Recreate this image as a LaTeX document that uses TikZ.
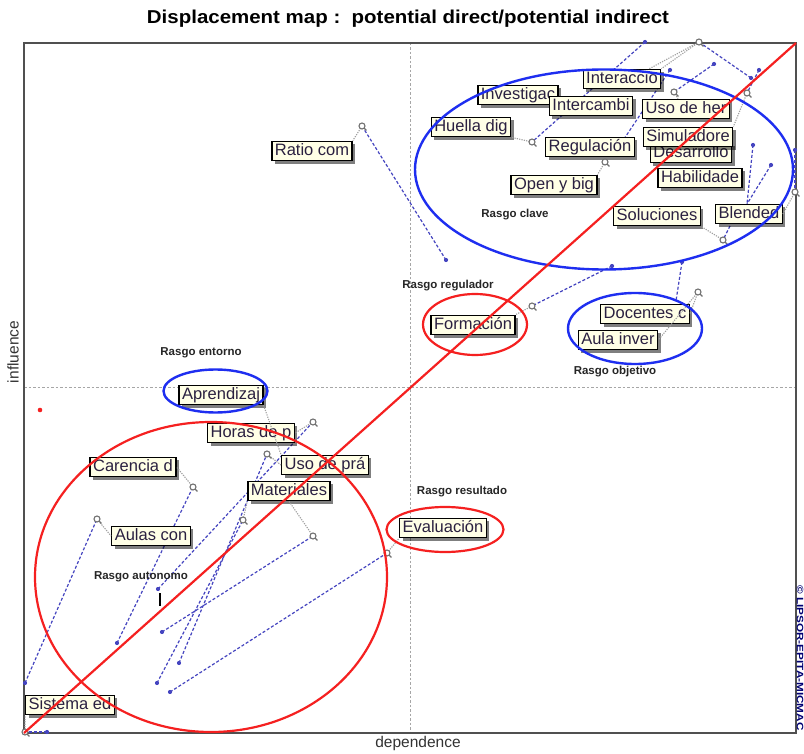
\documentclass[tikz,border=0pt]{standalone}
\usepackage{fontspec}
\setmainfont{Liberation Sans}
\usetikzlibrary{shadows}
\definecolor{labelfill}{HTML}{FFFFE6}
\definecolor{labeltext}{HTML}{2A2040}
\definecolor{moveblue}{HTML}{4545C0}
\definecolor{ringblue}{HTML}{1E2EF0}
\definecolor{ringred}{HTML}{F52020}
\definecolor{framegrey}{HTML}{505050}
\definecolor{markgrey}{HTML}{707070}
\tikzset{
  varlabel/.style={draw=black, line width=1.3pt, fill=labelfill, text=labeltext,
    font=\fontsize{16.5}{17}\selectfont, inner xsep=3pt, inner ysep=2.3pt,
    text height=11.8pt, text depth=3pt,
    drop shadow={shadow xshift=3pt, shadow yshift=-3pt, fill=black, opacity=0.5}},
  movepath/.style={moveblue, dash pattern=on 3pt off 2pt, line width=1.2pt},
  tiepath/.style={gray!75, dash pattern=on 1.2pt off 1.2pt, line width=1.1pt},
  ring/.style={line width=2.4pt},
  traitlabel/.style={font=\bfseries\fontsize{11.5}{13}\selectfont, text=black!85},
  axislabel/.style={font=\fontsize{15.5}{16}\selectfont, text=black!80},
}
\begin{document}
\begin{tikzpicture}[x=1pt,y=-1pt]
\useasboundingbox (0,0) rectangle (804,754);
\fill[white] (0,0) rectangle (804,754);

% title
\node (title) at (408,19) {\resizebox{522pt}{13.5pt}{\bfseries Displacement map :\ \ potential direct/potential indirect}};

% plot frame and quadrant axes
\coordinate (ll) at (24,733);
\coordinate (ur) at (796,43);
\coordinate (axtop) at (410,43);
\coordinate (axbot) at (410,733);
\coordinate (axleft) at (24,387);
\coordinate (axright) at (796,387);
\draw[gray!70, dash pattern=on 2.5pt off 2pt, line width=0.9pt] (axtop) -- (axbot);
\draw[gray!70, dash pattern=on 2.5pt off 2pt, line width=0.9pt] (axleft) -- (axright);
\draw[framegrey, line width=1.8pt] (ll) rectangle (ur);

% axis titles
\node[axislabel] (dep) at (418,743) {dependence};
\node[axislabel, rotate=90] (inf) at (13,352) {influence};
\node[font=\bfseries\fontsize{8}{9}\selectfont, text=black!55!blue, rotate=-90] (copy) at (800,658)
  {\resizebox{145pt}{6.5pt}{\textcopyright{} LIPSOR-EPITA-MICMAC}};

% displacement end points: filled dot = start, ring = end
\coordinate (h1) at (645,42);   \coordinate (h2) at (532,142);
\coordinate (i1) at (751,78);   \coordinate (i2) at (699,42);
\coordinate (u1) at (714,64);   \coordinate (u2) at (674,92);
\coordinate (s1) at (759,70);   \coordinate (s2) at (747,93);
\coordinate (r1) at (670,70);   \coordinate (r2) at (622,142);
\coordinate (o2) at (605,162);
\coordinate (b1) at (753,145);  \coordinate (b2) at (771,165);  \coordinate (bb) at (747,204);
\coordinate (e1) at (795,150);  \coordinate (e2) at (795,192);
\coordinate (so1) at (730,226); \coordinate (so2) at (723,240);
\coordinate (f1) at (612,266);  \coordinate (f2) at (532,306);
\coordinate (d1) at (682,262);  \coordinate (d2) at (676,301);
\coordinate (a2) at (698,292);
\coordinate (rc1) at (446,260); \coordinate (rc2) at (362,126);
\coordinate (ev1) at (170,692); \coordinate (ev2) at (387,553);
\coordinate (ca1) at (117,643); \coordinate (ca2) at (193,487);
\coordinate (au1) at (25,683);  \coordinate (au2) at (97,519);
\coordinate (ho1) at (158,589); \coordinate (ho2) at (313,422);
\coordinate (up1) at (179,663); \coordinate (up2) at (267,454);
\coordinate (ma1) at (157,683); \coordinate (ma2) at (243,520);
\coordinate (mb1) at (162,632); \coordinate (mb2) at (313,536);
\coordinate (si1) at (47,732);  \coordinate (si2) at (25,732);

% displacement paths
\foreach \a/\b in {h1/h2, i1/i2, u1/u2, s1/s2, r1/r2, b1/bb, b2/bb, e1/e2, so1/so2,
                   f1/f2, d1/d2, rc1/rc2, ev1/ev2, ca1/ca2, au1/au2, ho1/ho2, up1/up2,
                   ma1/ma2, mb1/mb2, si1/si2}
  \draw[movepath] (\a) -- (\b);

% labels
\node[varlabel] (interaccio) at (622,79) {Interaccio};
\node[varlabel] (investigac) at (518,95) {Investigac};
\node[varlabel] (intercambi) at (591,106) {Intercambi};
\node[varlabel] (usoher) at (686,109) {Uso de her};
\node[varlabel] (huella) at (471,127) {Huella dig};
\node[varlabel] (regulacion) at (590,147) {Regulación};
\node[varlabel] (desarrollo) at (691,153) {Desarrollo};
\node[varlabel] (simuladore) at (688,137) {Simuladore};
\node[varlabel] (habilidade) at (700,178) {Habilidade};
\node[varlabel] (openbig) at (554,185) {Open y big};
\node[varlabel] (soluciones) at (657,216) {Soluciones};
\node[varlabel] (blended) at (749,214) {Blended};
\node[varlabel] (ratio) at (312,151) {Ratio com};
\node[varlabel] (formacion) at (473,325) {Formación};
\node[varlabel] (docentes) at (645,314) {Docentes c};
\node[varlabel] (aulainver) at (618,340) {Aula inver};
\node[varlabel] (evaluacion) at (443,528) {Evaluación};
\node[varlabel] (aprendizaj) at (221,395) {Aprendizaj};
\node[varlabel] (horas) at (251,433) {Horas de p};
\node[varlabel] (carencia) at (133,467) {Carencia d};
\node[varlabel] (usopra) at (325,465) {Uso de prá};
\node[varlabel] (materiales) at (289,491) {Materiales};
\node[varlabel] (aulascon) at (151,536) {Aulas con};
\node[varlabel] (sistema) at (70,705) {Sistema ed};

% ties from each end ring to its label
\draw[tiepath] (h2) -- (huella.south east);
\draw[tiepath] (i2) -- (interaccio.north east);
\draw[tiepath] (i2) -- ([xshift=-12pt]interaccio.north east);
\draw[tiepath] (u2) -- ([xshift=-8pt]usoher.north);
\draw[tiepath] (s2) -- (simuladore.north east);
\draw[tiepath] (o2) -- (openbig.north east);
\draw[tiepath] (e2) -- (blended.east);
\draw[tiepath] (so2) -- (soluciones.south east);
\draw[tiepath] (f2) -- (formacion.north east);
\draw[tiepath] (a2) -- (aulainver.east);
\draw[tiepath] (a2) -- (docentes.east);
\draw[tiepath] (rc2) -- (ratio.north east);
\draw[tiepath] (ev2) -- (evaluacion.south west);
\draw[tiepath] (ca2) -- (carencia.east);
\draw[tiepath] (au2) -- (aulascon.west);
\draw[tiepath] (ho2) -- (horas.east);
\draw[tiepath] (up2) -- (usopra.west);
\draw[tiepath] (aprendizaj.south east) -- (usopra.north west);
\draw[tiepath] (ma2) -- (materiales.south west);
\draw[tiepath] (mb2) -- (materiales.south);
\draw[tiepath] (si2) -- (sistema.south west);

% end rings and start dots
\foreach \c in {h2,i2,u2,s2,o2,e2,so2,f2,a2,rc2,ev2,ca2,au2,ho2,up2,ma2,mb2,si2} {
  \draw[markgrey, line width=1.1pt, fill=white] (\c) circle (3pt);
  \draw[markgrey, line width=1.4pt] (\c) ++(2.2,2.2) -- ++(2.2,2.2);
}
\foreach \c in {h1,i1,u1,s1,r1,b1,b2,e1,f1,d1,rc1,ev1,ca1,au1,ho1,up1,ma1,mb1,si1}
  \fill[moveblue] (\c) circle (2.1pt);

% stray marks
\coordinate (reddot) at (40,410);
\fill[ringred] (reddot) circle (2.3pt);
\coordinate (ibeamtop) at (160,593);
\coordinate (ibeambot) at (160,606);
\draw[black, line width=1.2pt] (ibeamtop) -- (ibeambot);

% trait groupings
\draw[ringblue, ring] (604,169.5) ellipse [x radius=189pt, y radius=100pt];
\draw[ringblue, ring] (635,328.5) ellipse [x radius=67pt, y radius=35.5pt];
\draw[ringblue, ring] (215.5,391) ellipse [x radius=52pt, y radius=21.5pt];
\draw[ringred, line width=2.2pt] (475,324.5) ellipse [x radius=52pt, y radius=30.5pt];
\draw[ringred, line width=2.2pt] (445,529.5) ellipse [x radius=58.5pt, y radius=22.5pt];
\draw[ringred, line width=2.2pt] (211,577) ellipse [x radius=176pt, y radius=155pt];

% diagonal
\draw[ringred, line width=2.2pt] (ll) -- (ur);

% trait names
\node[traitlabel] (tclave) at (515,215) {Rasgo clave};
\node[traitlabel] (tregulador) at (448,286) {Rasgo regulador};
\node[traitlabel] (tobjetivo) at (615,372) {Rasgo objetivo};
\node[traitlabel] (tresultado) at (462,492) {Rasgo resultado};
\node[traitlabel] (tentorno) at (201,353) {Rasgo entorno};
\node[traitlabel] (tautonomo) at (141,577) {Rasgo autonomo};
\end{tikzpicture}
\end{document}
